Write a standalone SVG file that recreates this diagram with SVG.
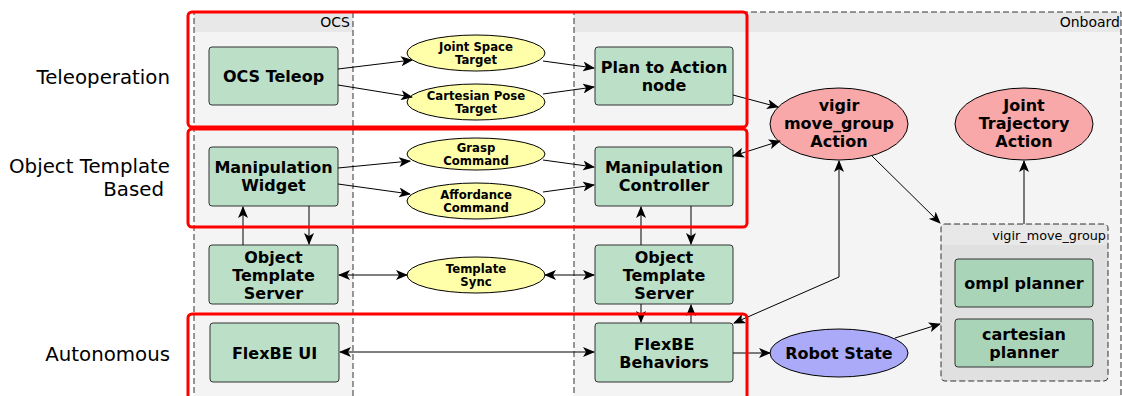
<svg xmlns="http://www.w3.org/2000/svg" width="1122" height="396" viewBox="0 0 1122 396">
<style>
.side{font-family:"DejaVu Sans",sans-serif;font-size:19.8px;fill:#000;text-anchor:end}
.hdr{font-family:"DejaVu Sans",sans-serif;font-size:14px;fill:#000;text-anchor:end}
.hdr2{font-family:"DejaVu Sans",sans-serif;font-size:12.8px;fill:#000;text-anchor:end}
.node rect{fill:#bcdfc8;stroke:#333;stroke-width:1}
.plan rect{fill:#aad4b8;stroke:#333;stroke-width:1}
.t{font-family:"DejaVu Sans",sans-serif;font-weight:bold;font-size:16px;fill:#000;text-anchor:middle}
.ts{font-family:"DejaVu Sans",sans-serif;font-weight:bold;font-size:11.7px;fill:#000;text-anchor:middle}
.yel{fill:#ffffaa;stroke:#000;stroke-width:1}
.red{fill:#f8a8a8;stroke:#000;stroke-width:1}
.blu{fill:#aaaaf8;stroke:#000;stroke-width:1}
.cont{stroke:#333;stroke-width:1;stroke-dasharray:6,3}
.grp{fill:none;stroke:#ff0000;stroke-width:3}
#edges path{fill:none;stroke:#000;stroke-width:1}
</style>
<defs>
<marker id="ah" viewBox="0 0 12 10" refX="11" refY="5" markerWidth="12" markerHeight="10" markerUnits="userSpaceOnUse" orient="auto-start-reverse">
<path d="M0,0 L12,5 L0,10 L3,5 z" fill="#000"/>
</marker>
</defs>
<rect width="1122" height="396" fill="#fff"/>

<!-- containers -->
<g id="ocs">
<rect x="194" y="12" width="159" height="390" fill="#f4f4f4"/>
<rect x="194" y="12" width="159" height="20" fill="#e8e8e8"/>
<path class="cont" fill="none" d="M194,402 V12 H353 V402"/>
<text class="hdr" x="350" y="27">OCS</text>
</g>
<g id="onboard">
<rect x="574" y="12" width="547" height="390" fill="#f4f4f4"/>
<rect x="574" y="12" width="547" height="20" fill="#e8e8e8"/>
<path class="cont" fill="none" d="M574,402 V12 H1121 V402"/>
<text class="hdr" x="1120" y="27">Onboard</text>
</g>
<g id="vigir_move_group">
<rect x="941" y="224" width="167" height="157" rx="4" fill="#e0e0e0"/>
<rect x="942" y="225" width="165" height="20" fill="#e8e8e8"/>
<rect class="cont" x="941" y="224" width="167" height="157" rx="4" fill="none"/>
<text class="hdr2" x="1106" y="240">vigir_move_group</text>
</g>

<!-- side labels -->
<text class="side" x="170" y="84">Teleoperation</text>
<text class="side" x="170" y="173">Object Template</text>
<text class="side" x="164" y="196">Based</text>
<text class="side" x="170" y="361">Autonomous</text>

<!-- nodes -->
<g id="ocs_teleop" class="node"><rect x="209" y="47" width="129" height="58" rx="3"/><text class="t" x="273.5" y="82">OCS Teleop</text></g>
<g id="joint_space_target"><ellipse class="yel" cx="476" cy="53" rx="69" ry="18"/><text class="ts" x="476" y="50.5">Joint Space</text><text class="ts" x="476" y="64">Target</text></g>
<g id="cartesian_pose_target"><ellipse class="yel" cx="476" cy="102" rx="69" ry="18"/><text class="ts" x="476" y="99.5">Cartesian Pose</text><text class="ts" x="476" y="113">Target</text></g>
<g id="plan_to_action" class="node"><rect x="595" y="47" width="138" height="58" rx="3"/><text class="t" x="664" y="73">Plan to Action</text><text class="t" x="664" y="91">node</text></g>
<g id="vigir_move_group_action"><ellipse class="red" cx="839" cy="124" rx="69" ry="36"/><text class="t" x="839" y="111">vigir</text><text class="t" x="839" y="129">move_group</text><text class="t" x="839" y="147">Action</text></g>
<g id="joint_trajectory_action"><ellipse class="red" cx="1024" cy="124" rx="69" ry="36"/><text class="t" x="1024" y="111">Joint</text><text class="t" x="1024" y="129">Trajectory</text><text class="t" x="1024" y="147">Action</text></g>

<g id="manipulation_widget" class="node"><rect x="209" y="147" width="129" height="59" rx="3"/><text class="t" x="273.5" y="173">Manipulation</text><text class="t" x="273.5" y="191">Widget</text></g>
<g id="grasp_command"><ellipse class="yel" cx="476" cy="154" rx="69" ry="16"/><text class="ts" x="476" y="151.5">Grasp</text><text class="ts" x="476" y="165">Command</text></g>
<g id="affordance_command"><ellipse class="yel" cx="476" cy="201" rx="69" ry="18"/><text class="ts" x="476" y="198.5">Affordance</text><text class="ts" x="476" y="212">Command</text></g>
<g id="manipulation_controller" class="node"><rect x="595" y="147" width="138" height="59" rx="3"/><text class="t" x="664" y="173">Manipulation</text><text class="t" x="664" y="191">Controller</text></g>

<g id="ots_ocs" class="node"><rect x="209" y="245" width="129" height="59" rx="3"/><text class="t" x="273.5" y="263">Object</text><text class="t" x="273.5" y="281">Template</text><text class="t" x="273.5" y="299">Server</text></g>
<g id="template_sync"><ellipse class="yel" cx="476" cy="275" rx="69" ry="18"/><text class="ts" x="476" y="272.5">Template</text><text class="ts" x="476" y="286">Sync</text></g>
<g id="ots_onboard" class="node"><rect x="595" y="245" width="138" height="59" rx="3"/><text class="t" x="664" y="263">Object</text><text class="t" x="664" y="281">Template</text><text class="t" x="664" y="299">Server</text></g>

<g id="flexbe_ui" class="node"><rect x="210" y="323" width="129" height="59" rx="3"/><text class="t" x="274.5" y="358.5">FlexBE UI</text></g>
<g id="flexbe_behaviors" class="node"><rect x="595" y="323" width="138" height="59" rx="3"/><text class="t" x="664" y="350">FlexBE</text><text class="t" x="664" y="368">Behaviors</text></g>
<g id="robot_state"><ellipse class="blu" cx="839" cy="353" rx="69" ry="24"/><text class="t" x="839" y="359">Robot State</text></g>

<g id="ompl_planner" class="plan"><rect x="955" y="259" width="138" height="48" rx="3"/><text class="t" x="1024" y="289">ompl planner</text></g>
<g id="cartesian_planner" class="plan"><rect x="955" y="319" width="138" height="48" rx="3"/><text class="t" x="1024" y="340">cartesian</text><text class="t" x="1024" y="358">planner</text></g>

<!-- connectors -->
<g id="edges">
<path marker-end="url(#ah)" d="M338,69 L412,60"/>
<path marker-end="url(#ah)" d="M338,85 L412,97"/>
<path marker-end="url(#ah)" d="M543,61 L594,68"/>
<path marker-end="url(#ah)" d="M543,94 L594,87"/>
<path marker-end="url(#ah)" d="M733,95 L778,107"/>
<path marker-start="url(#ah)" marker-end="url(#ah)" d="M733,156 L780,141"/>
<path marker-end="url(#ah)" d="M872,156 L940,223"/>
<path marker-end="url(#ah)" d="M1024,224 L1024,161"/>
<path marker-end="url(#ah)" d="M338,168 L410,161"/>
<path marker-end="url(#ah)" d="M338,184 L410,194"/>
<path marker-end="url(#ah)" d="M543,160 L594,167"/>
<path marker-end="url(#ah)" d="M543,192 L594,185"/>
<path marker-end="url(#ah)" d="M243,245 L243,207"/>
<path marker-end="url(#ah)" d="M309,206 L309,244"/>
<path marker-end="url(#ah)" d="M641,245 L641,207"/>
<path marker-end="url(#ah)" d="M691,206 L691,244"/>
<path marker-start="url(#ah)" marker-end="url(#ah)" d="M339,275 L407,275"/>
<path marker-start="url(#ah)" marker-end="url(#ah)" d="M545,275 L594,275"/>
<path marker-end="url(#ah)" d="M641,304 L641,322"/>
<path marker-end="url(#ah)" d="M691,323 L691,305"/>
<path marker-start="url(#ah)" marker-end="url(#ah)" d="M340,352 L594,352"/>
<path marker-end="url(#ah)" d="M733,353 L770,353"/>
<path marker-end="url(#ah)" d="M895,338 L940,324"/>
<path marker-start="url(#ah)" marker-end="url(#ah)" d="M839,161 L839,277 L734,323"/>
</g>

<!-- red group outlines -->
<g id="groups">
<rect class="grp" x="188" y="12" width="559" height="115" rx="4"/>
<rect class="grp" x="188" y="129" width="559" height="98" rx="4"/>
<rect class="grp" x="188" y="314" width="559" height="90" rx="4"/>
</g>
</svg>
